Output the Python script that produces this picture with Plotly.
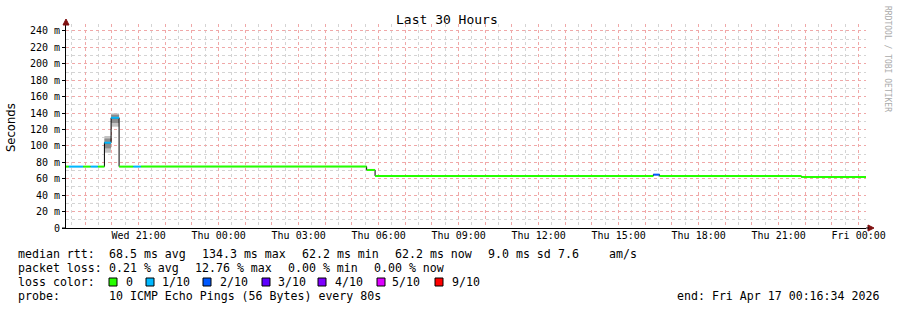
import plotly.graph_objects as go

# ---------------- data ----------------
seg_start = [
    "2026-04-15 18:16:34", "2026-04-15 18:23", "2026-04-15 18:55", "2026-04-15 19:12",
    "2026-04-15 19:28", "2026-04-15 19:43", "2026-04-15 19:58", "2026-04-15 20:16",
    "2026-04-15 20:48", "2026-04-15 21:05", "2026-04-16 05:33", "2026-04-16 05:52",
    "2026-04-16 16:18", "2026-04-16 16:32", "2026-04-16 21:51",
]
end_time = "2026-04-17 00:16:34"
median_ms = [74.8, 74.8, 74.8, 74.8, 74.8, 103.9, 134.3, 74.8, 74.8, 74.8,
             70.7, 63.4, 65.0, 63.4, 62.2]
loss_pings = [0, 1, 0, 1, 0, 1, 1, 0, 1, 0, 0, 0, 2, 0, 0]
smoke_min = [None, None, None, None, None, 91.7, 123.4, None, None, None, None, None, None, None, None]
smoke_q1 = [None, None, None, None, None, 97.0, 128.0, None, None, None, None, None, None, None, None]
smoke_q3 = [None, None, None, None, None, 109.0, 138.0, None, None, None, None, None, None, None, None]
smoke_max = [None, None, None, None, None, 112.1, 139.7, None, None, None, None, None, None, None, None]

loss_labels = ["0", "1/10", "2/10", "3/10", "4/10", "5/10", "9/10"]
loss_colors = ["#26ff00", "#00b8ff", "#0059ff", "#5e00ff", "#7e00ff", "#dd00ff", "#ff0000"]

y_ticks = list(range(0, 241, 20))
y_ticktext = [f"{v} m" if v else "0" for v in y_ticks]

title = "Last 30 Hours"
line_rtt = [("median rtt:", 16), ("68.5 ms avg", 107), ("134.3 ms max", 200),
            ("62.2 ms min", 300), ("62.2 ms now", 393), ("9.0 ms sd", 486),
            ("7.6", 556), ("am/s", 607)]
line_loss = [("packet loss:", 16), ("0.21 % avg", 107), ("12.76 % max", 193),
             ("0.00 % min", 286), ("0.00 % now", 372)]
probe_text = "10 ICMP Echo Pings (56 Bytes) every 80s"
end_text = "end: Fri Apr 17 00:16:34 2026"

# ---------------- layout geometry ----------------
W, H = 897, 310
L, R, T, B = 66, 866, 24, 228
MONO = "DejaVu Sans Mono"


def px(xp):
    return (xp - L) / (R - L)


def py(yp):
    return (B - yp) / (B - T)


fig = go.Figure()

seg_end = seg_start[1:] + [end_time]

# smoke
for i in range(len(seg_start)):
    if smoke_min[i] is None:
        continue
    for lo, hi, col in ((smoke_min[i], smoke_max[i], "#c4c4c4"),
                        (smoke_q1[i], smoke_q3[i], "#8c8c8c")):
        fig.add_trace(go.Scatter(
            x=[seg_start[i], seg_end[i], seg_end[i], seg_start[i], seg_start[i]],
            y=[lo, lo, hi, hi, lo], fill="toself", fillcolor=col,
            line=dict(width=0, color=col), mode="lines", hoverinfo="skip",
            showlegend=False))

# black step connector
fig.add_trace(go.Scatter(
    x=seg_start + [end_time], y=median_ms + [median_ms[-1]],
    mode="lines", line=dict(color="#000000", width=1, shape="hv"),
    showlegend=False, hoverinfo="skip"))

# coloured median by loss
for lv in sorted(set(loss_pings)):
    xs, ys = [], []
    for i in range(len(seg_start)):
        if loss_pings[i] == lv:
            xs += [seg_start[i], seg_end[i], None]
            ys += [median_ms[i], median_ms[i], None]
    fig.add_trace(go.Scatter(x=xs, y=ys, mode="lines",
                             line=dict(color=loss_colors[lv], width=2),
                             showlegend=False, hoverinfo="skip"))

# dummy trace for label axis
fig.add_trace(go.Scatter(x=[seg_start[0]], y=[0], xaxis="x2", mode="markers",
                         marker=dict(size=0.1, opacity=0), showlegend=False,
                         hoverinfo="skip"))

xr = [seg_start[0], end_time]
fig.update_layout(
    width=W, height=H,
    margin=dict(l=L, r=W - R, t=T, b=H - B, pad=0),
    paper_bgcolor="white", plot_bgcolor="white",
    showlegend=False,
    xaxis=dict(type="date", range=xr, tick0="2026-04-15", dtick=3600000,
               showticklabels=False, ticks="", showgrid=True,
               gridcolor="#f0a8a8", griddash="dot", gridwidth=1,
               minor=dict(dtick=1800000, tick0="2026-04-15", showgrid=True,
                          gridcolor="#d4d4d4", griddash="dot", gridwidth=1),
               showline=True, linecolor="#000000", linewidth=1, zeroline=False),
    xaxis2=dict(type="date", range=xr, overlaying="x", anchor="y", side="bottom",
                tick0="2026-04-15", dtick=3 * 3600000, tickformat="%a %H:%M",
                showgrid=False, ticks="", showline=False, zeroline=False,
                tickfont=dict(family=MONO, size=10, color="#000000")),
    yaxis=dict(range=[0, 248.5], tickmode="array", tickvals=y_ticks,
               ticktext=y_ticktext, ticks="outside", ticklen=3,
               tickcolor="#000000", showgrid=True, gridcolor="#f0a8a8",
               griddash="dot", gridwidth=1,
               minor=dict(tickmode="linear", tick0=0, dtick=10, showgrid=True,
                          gridcolor="#d4d4d4", griddash="dot", gridwidth=1),
               showline=True, linecolor="#000000", linewidth=1, zeroline=False,
               tickfont=dict(family=MONO, size=10, color="#000000")),
)

ann = []


def text(s, xp, yp, size=11.6, anchor="left", family=MONO, color="#000000", angle=0):
    ann.append(dict(text=s, x=px(xp), y=py(yp), xref="paper", yref="paper",
                    xanchor=anchor, yanchor="middle", showarrow=False,
                    textangle=angle, font=dict(family=family, size=size, color=color)))


text(title, 447, 19, size=13, anchor="center")
text("Seconds", 11, 127, size=11.6, anchor="center", family="DejaVu Sans", angle=-90)
text("RRDTOOL / TOBI OETIKER", 887, 59, size=8, anchor="center", color="#aaaaaa", angle=90)
for s, xp in line_rtt:
    text(s, xp, 254)
for s, xp in line_loss:
    text(s, xp, 268)
text("loss color:", 16, 282)
sq_x = [109, 146, 203, 262, 318, 377, 435]
lab_x = [124, 160, 218, 276, 333, 390, 450]
shapes = []
for lbl, col, sx, lx in zip(loss_labels, loss_colors, sq_x, lab_x):
    text(lbl, lx, 282)
    shapes.append(dict(type="rect", xref="paper", yref="paper",
                       x0=px(sx), x1=px(sx + 8), y0=py(286), y1=py(278),
                       fillcolor=col, line=dict(color="#000000", width=1)))
text("probe:", 16, 296)
text(probe_text, 107, 296)
text(end_text, 881, 296, anchor="right")

# axis arrows
shapes.append(dict(type="path", xref="paper", yref="paper",
                   xsizemode="pixel", ysizemode="pixel", xanchor=1, yanchor=0,
                   path="M 2 -3 L 8 0 L 2 3 Z", fillcolor="#7f1010",
                   line=dict(color="#7f1010", width=1)))
shapes.append(dict(type="line", xref="paper", yref="paper",
                   xsizemode="pixel", ysizemode="pixel", xanchor=1, yanchor=0,
                   x0=0, x1=3, y0=0, y1=0, line=dict(color="#000000", width=1)))
shapes.append(dict(type="path", xref="paper", yref="paper",
                   xsizemode="pixel", ysizemode="pixel", xanchor=0, yanchor=1,
                   path="M -3 -1 L 0 5 L 3 -1 Z", fillcolor="#7f1010",
                   line=dict(color="#7f1010", width=1)))
shapes.append(dict(type="line", xref="paper", yref="paper",
                   xsizemode="pixel", ysizemode="pixel", xanchor=-0.0, yanchor=0,
                   x0=-4, x1=0, y0=0, y1=0, line=dict(color="#000000", width=1)))

fig.update_layout(annotations=ann, shapes=shapes)
fig.write_html("out.html")
